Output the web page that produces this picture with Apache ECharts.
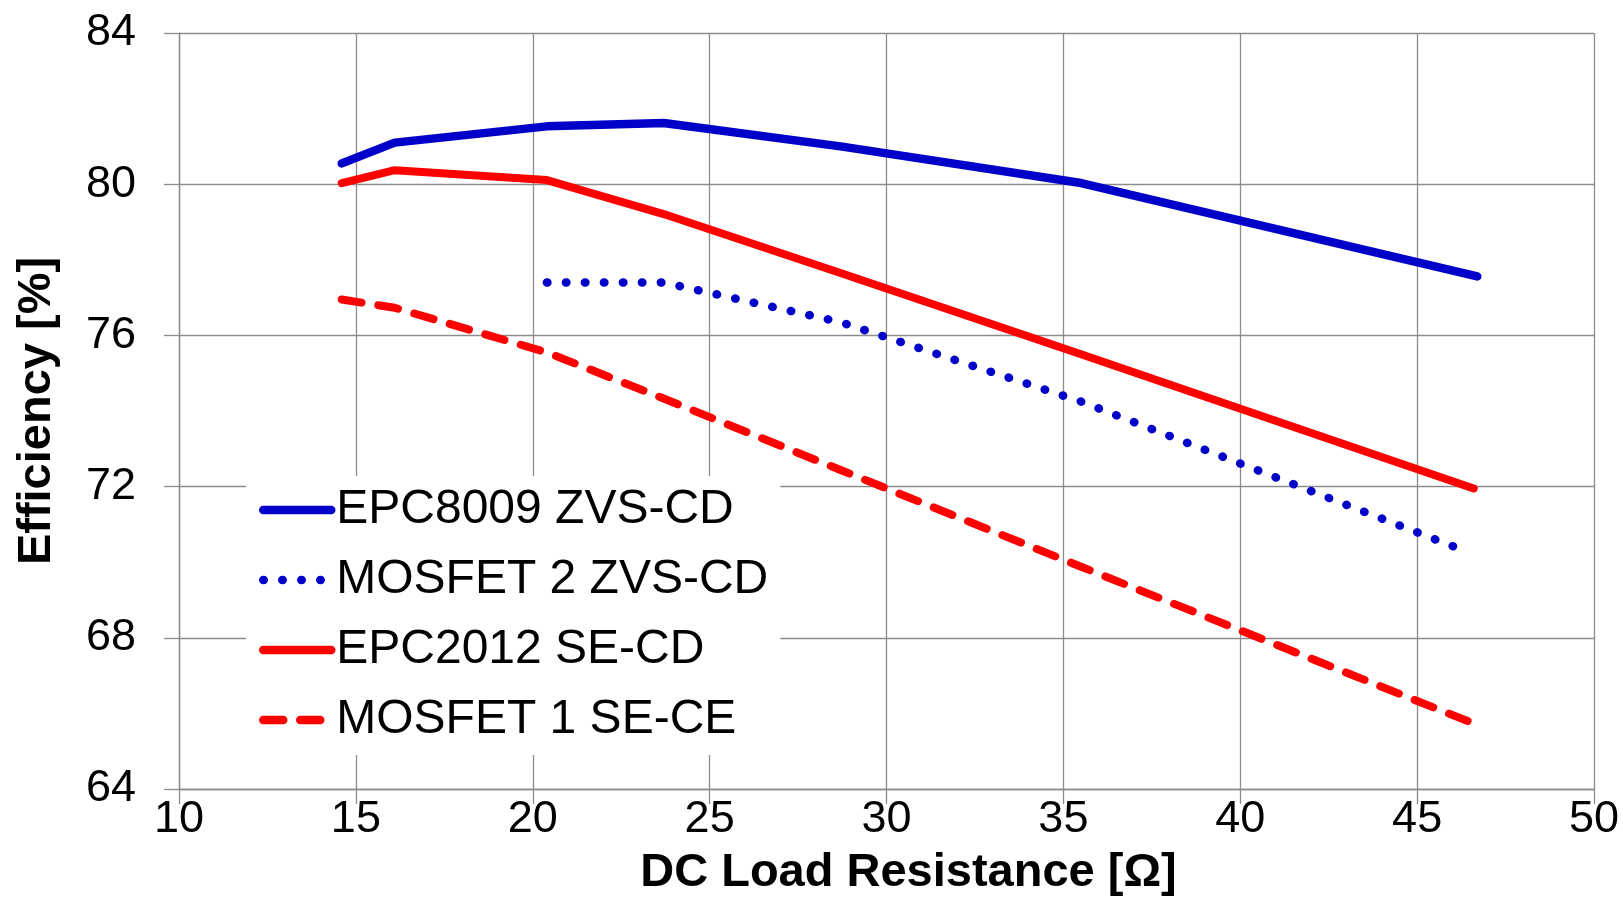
<!DOCTYPE html>
<html><head><meta charset="utf-8">
<script src="https://cdn.jsdelivr.net/npm/echarts@6/dist/echarts.min.js"></script>
<style>html,body{margin:0;padding:0;background:#fff}#c{width:1623px;height:924px}</style>
</head><body><div id="c"></div>
<script>
// ---- data ----
const seriesNames = ['EPC8009 ZVS-CD', 'MOSFET 2 ZVS-CD', 'EPC2012 SE-CD', 'MOSFET 1 SE-CE'];
const epc8009X = [14.6, 16.1, 20.4, 23.7, 28.7, 35.5, 46.7];
const epc8009Y = [80.55, 81.10, 81.53, 81.62, 81.0, 80.03, 77.56];
const mosfet2X = [20.4, 23.7, 28.7, 35.5, 46.4];
const mosfet2Y = [77.40, 77.40, 76.35, 74.25, 70.28];
const epc2012X = [14.6, 16.1, 20.4, 23.7, 28.7, 35.5, 46.6];
const epc2012Y = [80.03, 80.37, 80.11, 79.21, 77.65, 75.50, 71.95];
const mosfet1X = [14.6, 16.1, 20.4, 23.7, 28.7, 35.5, 46.5];
const mosfet1Y = [76.95, 76.73, 75.55, 74.33, 72.44, 69.88, 65.77];
const xTickLabels = [10, 15, 20, 25, 30, 35, 40, 45, 50];
const yTickLabels = [64, 68, 72, 76, 80, 84];
const xTitle = 'DC Load Resistance [Ω]';
const yTitle = 'Efficiency [%]';

const pairs = (xs, ys) => xs.map((x, i) => [x, ys[i]]);
const FONT = '"Liberation Sans", Arial, sans-serif';
const GRID = '#8c8c8c';
const BLUE = '#0000c8';
const RED = '#ff0000';

const chart = echarts.init(document.getElementById('c'), null, {renderer: 'canvas'});
const axisCommon = {
  axisLine: {show: true, lineStyle: {color: GRID, width: 1.3}},
  axisTick: {show: true, inside: false, length: 15, lineStyle: {color: GRID, width: 1.3}},
  splitLine: {show: true, lineStyle: {color: GRID, width: 1.3}},
};
chart.setOption({
  animation: false,
  backgroundColor: '#fff',
  grid: {left: 179, top: 33, right: 29, bottom: 135, containLabel: false},
  xAxis: Object.assign({
    type: 'value',
    min: xTickLabels[0], max: xTickLabels[xTickLabels.length - 1],
    interval: xTickLabels[1] - xTickLabels[0],
    axisLabel: {color: '#000', fontSize: 45, fontFamily: FONT, margin: 8},
    name: xTitle, nameLocation: 'middle', nameGap: 61,
    nameTextStyle: {color: '#000', fontSize: 47, fontWeight: 'bold', fontFamily: FONT, padding: [0, 0, 0, 44]}
  }, axisCommon),
  yAxis: Object.assign({
    type: 'value',
    min: yTickLabels[0], max: yTickLabels[yTickLabels.length - 1],
    interval: yTickLabels[1] - yTickLabels[0],
    axisLabel: {color: '#000', fontSize: 45, fontFamily: FONT, margin: 43},
    name: yTitle, nameLocation: 'middle', nameGap: 118,
    nameTextStyle: {color: '#000', fontSize: 47, fontWeight: 'bold', fontFamily: FONT}
  }, axisCommon),
  legend: {
    left: 246, top: 476, orient: 'vertical',
    padding: [9, 12, 10, 13],
    backgroundColor: '#fff',
    itemWidth: 68, itemHeight: 14, itemGap: 20,
    itemStyle: {opacity: 0},
    lineStyle: {width: 8.5, cap: 'round'},
    textStyle: {color: '#000', fontSize: 48, fontFamily: FONT, lineHeight: 50},
    data: seriesNames
  },
  series: [
    {name: seriesNames[0], type: 'line', symbol: 'none', data: pairs(epc8009X, epc8009Y),
     lineStyle: {color: BLUE, width: 8.5, cap: 'round', join: 'round'}, itemStyle: {color: BLUE}},
    {name: seriesNames[1], type: 'line', symbol: 'none', data: pairs(mosfet2X, mosfet2Y),
     lineStyle: {color: BLUE, width: 8.5, type: [0.5, 18.5], cap: 'round', join: 'round'}, itemStyle: {color: BLUE}},
    {name: seriesNames[2], type: 'line', symbol: 'none', data: pairs(epc2012X, epc2012Y),
     lineStyle: {color: RED, width: 8, cap: 'round', join: 'round'}, itemStyle: {color: RED}},
    {name: seriesNames[3], type: 'line', symbol: 'none', data: pairs(mosfet1X, mosfet1Y),
     lineStyle: {color: RED, width: 8, type: [20, 17], cap: 'round', join: 'round'}, itemStyle: {color: RED}}
  ]
});
</script></body></html>
